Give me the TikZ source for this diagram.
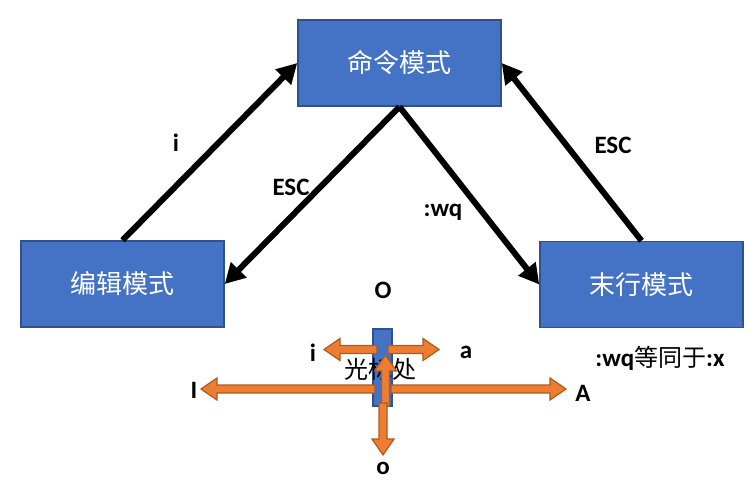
\documentclass[tikz,border=0pt]{standalone}
\usepackage{fontspec}
\setmainfont{Carlito}
\newfontfamily\cjk{Noto Sans CJK SC}
\usetikzlibrary{arrows.meta,calc}

\definecolor{boxblue}{HTML}{4472C4}
\definecolor{boxline}{HTML}{2F528F}
\definecolor{orfill}{HTML}{ED7D31}
\definecolor{orline}{HTML}{AE5A21}

% block arrow from #1 to #2
\newcommand{\orarrow}[2]{%
  \coordinate (oa-s) at #1;
  \coordinate (oa-e) at #2;
  \coordinate (oa-n) at ($(oa-e)!16pt!(oa-s)$);
  \filldraw[orange arrow] ($(oa-s)!4pt!90:(oa-e)$) -- ($(oa-n)!4pt!-90:(oa-s)$)
    -- ($(oa-n)!11pt!-90:(oa-s)$) -- (oa-e) -- ($(oa-n)!11pt!90:(oa-s)$)
    -- ($(oa-n)!4pt!90:(oa-s)$) -- ($(oa-s)!4pt!-90:(oa-e)$) -- cycle;}

\begin{document}
\begin{tikzpicture}[
    x=1pt,y=-1pt,
    mode/.style={draw=boxline, line width=1.5pt, fill=boxblue, text=white,
      minimum width=203pt, minimum height=86pt, font=\cjk\fontsize{26}{30}\selectfont},
    line/.style={line width=6pt, -{Triangle[length=20pt,width=21pt]}},
    key/.style={font=\bfseries\fontsize{25}{28}\selectfont},
    orange arrow/.style={fill=orfill, draw=orline, line width=1.2pt, line join=miter}
    ]
    \useasboundingbox[fill=white] (0, 0) rectangle (753, 491);
    % the three modes
    \node[mode] (cmd) at (399.5, 63) {命令模式};
    \node[mode] (edit) at (122.5, 284) {编辑模式};
    \node[mode] (last) at (641.5, 284.5) {末行模式};
    \draw[line] (edit.north) -- (cmd.west);
    \draw[line] (cmd.south) -- (edit.east);
    \draw[line] (cmd.south) -- (last.west);
    \draw[line] (last.north) -- (cmd.east);
    \node[key] (k-i) at (176, 143) {i};
    \node[key] (k-esc) at (291, 187) {ESC};
    \node[key] (k-wq) at (443, 212) {:wq};
    \node[key] (k-esc2) at (613, 145) {ESC};
    \node[key] (k-x) at (660, 358) {:wq{\cjk\mdseries\fontsize{24}{28}\selectfont 等同于}:x};
    % cursor
    \fill[draw=boxline, line width=1.2pt, fill=boxblue] (373, 329) rectangle (392, 406);
    \orarrow{(377, 349.5)}{(324, 349.5)}
    \orarrow{(388, 349.5)}{(439, 349.5)}
    \orarrow{(375, 389)}{(201, 389)}
    \orarrow{(391, 389)}{(566, 389)}
    \node[font=\cjk\fontsize{24}{28}\selectfont] (cur) at (380, 369) {光标处};
    \orarrow{(385.5, 406)}{(385.5, 355)}
    \orarrow{(383, 403)}{(383, 455)}
    \node[key] (k-O) at (383, 290) {O};
    \node[key] (k-ii) at (313, 353) {i};
    \node[key] (k-a) at (466, 352) {a};
    \node[key] (k-I) at (194, 390) {I};
    \node[key] (k-A) at (583, 393) {A};
    \node[key] (k-o) at (383, 468) {o};
  \end{tikzpicture}
\end{document}
